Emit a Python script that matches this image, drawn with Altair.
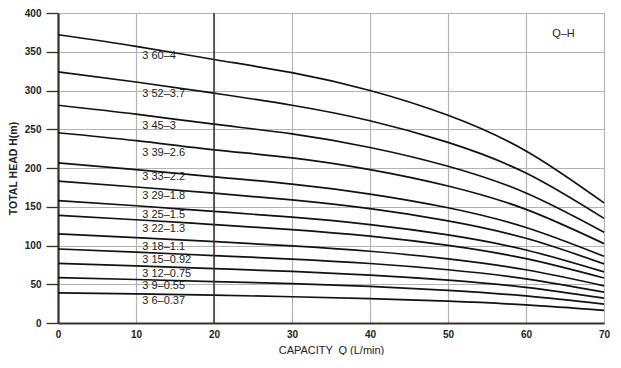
import altair as alt
import pandas as pd

# Capacity points (L/min)
capacity = [0, 10, 20, 30, 40, 50, 60, 70]

# Model names (top to bottom)
models = ["3 60–4", "3 52–3.7", "3 45–3", "3 39–2.6", "3 33–2.2", "3 29–1.8",
          "3 25–1.5", "3 22–1.3", "3 18–1.1", "3 15–0.92", "3 12–0.75",
          "3 9–0.55", "3 6–0.37"]

# Total head H(m) at each capacity point, one list per model
head_360_4 = [372, 357, 340, 323, 300, 268, 222, 155]
head_352_37 = [324, 311, 296.5, 281, 261, 233, 193.5, 135]
head_345_3 = [281, 269.5, 256.5, 244, 226.5, 202.3, 167.8, 117.2]
head_339_26 = [245.5, 235.3, 223.5, 213.1, 197.9, 176.8, 146.6, 102.4]
head_333_22 = [206.5, 198, 188.6, 179.2, 166.4, 148.7, 123.3, 86.1]
head_329_18 = [183, 175.5, 167.5, 158.8, 147.5, 131.8, 109.3, 76.3]
head_325_15 = [158, 151.3, 144, 136.5, 127, 113.6, 94.2, 65.9]
head_322_13 = [139, 133.2, 127, 120.5, 112, 100.1, 83, 58]
head_318_11 = [115, 110.2, 105, 99.5, 92.6, 82.8, 68.7, 48]
head_315_092 = [95.5, 91.5, 87, 82.5, 76.8, 68.7, 57, 39.8]
head_312_075 = [77, 73.8, 70.2, 66.5, 61.9, 55.4, 46, 32.1]
head_39_055 = [58.5, 56.1, 53.5, 50.7, 47.2, 42.1, 34.9, 24.4]
head_36_037 = [39, 37.5, 35.9, 33.9, 31.4, 28.1, 23.3, 16.3]

heads = [head_360_4, head_352_37, head_345_3, head_339_26, head_333_22,
         head_329_18, head_325_15, head_322_13, head_318_11, head_315_092,
         head_312_075, head_39_055, head_36_037]

# Curve label anchor (data coordinates)
label_q = [10.8] * 13
label_h = [345, 296, 254, 219, 188, 164, 139.5, 121, 98, 81, 63.7, 48, 28.6]

# Y axis tick values
head_ticks = [0, 50, 100, 150, 200, 250, 300, 350, 400]

rows = []
for m, hs in zip(models, heads):
    for q, h in zip(capacity, hs):
        rows.append({"model": m, "Q": q, "H": h})
curves = pd.DataFrame(rows)
labels = pd.DataFrame({"model": models, "Q": label_q, "H": label_h})

FONT = "Liberation Sans"
DARK = "#3b2e2a"

xscale = alt.Scale(domain=[0, 70], nice=False, zero=False)
yscale = alt.Scale(domain=[0, 400], nice=False)

x_axis = alt.Axis(values=capacity, title="CAPACITY\u2002Q (L/min)", grid=True,
                  gridColor="#b3b3b3", gridWidth=1.2, ticks=False,
                  labelPadding=6, labelFlush=False, labelOverlap=False,
                  domainColor=DARK, domainWidth=2.2,
                  labelFont=FONT, labelFontSize=10, labelFontWeight="bold",
                  labelColor="#222", titleFont=FONT, titleFontSize=11,
                  titleFontWeight="normal", titleColor="#222", titlePadding=5)
y_axis = alt.Axis(values=head_ticks, title="TOTAL HEAD  H(m)",
                  grid=True, gridColor="#b3b3b3", gridWidth=1.2,
                  ticks=True, tickSize=12, tickColor=DARK, tickWidth=1.3,
                  labelPadding=5, labelOverlap=False, labelFlush=False,
                  domainColor=DARK, domainWidth=2.2,
                  labelFont=FONT, labelFontSize=10, labelFontWeight="bold",
                  labelColor="#222", titleFont=FONT, titleFontSize=10.5,
                  titleFontWeight="bold", titleColor="#222", titlePadding=6)

X = alt.X("Q:Q", scale=xscale, axis=x_axis)
Y = alt.Y("H:Q", scale=yscale, axis=y_axis)

lines = alt.Chart(curves).mark_line(
    interpolate="natural", color="#111", strokeWidth=1.7
).encode(x=X, y=Y, detail="model:N")

rule20 = alt.Chart(pd.DataFrame({"Q": [20]})).mark_rule(
    color=DARK, strokeWidth=1.5
).encode(x=X)

texts = alt.Chart(labels).mark_text(
    align="left", baseline="middle", font=FONT, fontSize=11, color="#222"
).encode(x=X, y=Y, text="model:N")

qh = alt.Chart(pd.DataFrame({"Q": [64.8], "H": [373], "t": ["Q–H"]})).mark_text(
    align="center", baseline="middle", font=FONT, fontSize=11, color="#222"
).encode(x=X, y=Y, text="t:N")

chart = alt.layer(lines, rule20, texts, qh).properties(
    width=546, height=310,
    padding={"left": 0, "top": 0, "right": 0, "bottom": 0},
).configure_view(
    stroke=DARK, strokeWidth=1.5
).configure(background="white")

chart.save("out.html", embed_options={"renderer": "svg", "actions": False})
